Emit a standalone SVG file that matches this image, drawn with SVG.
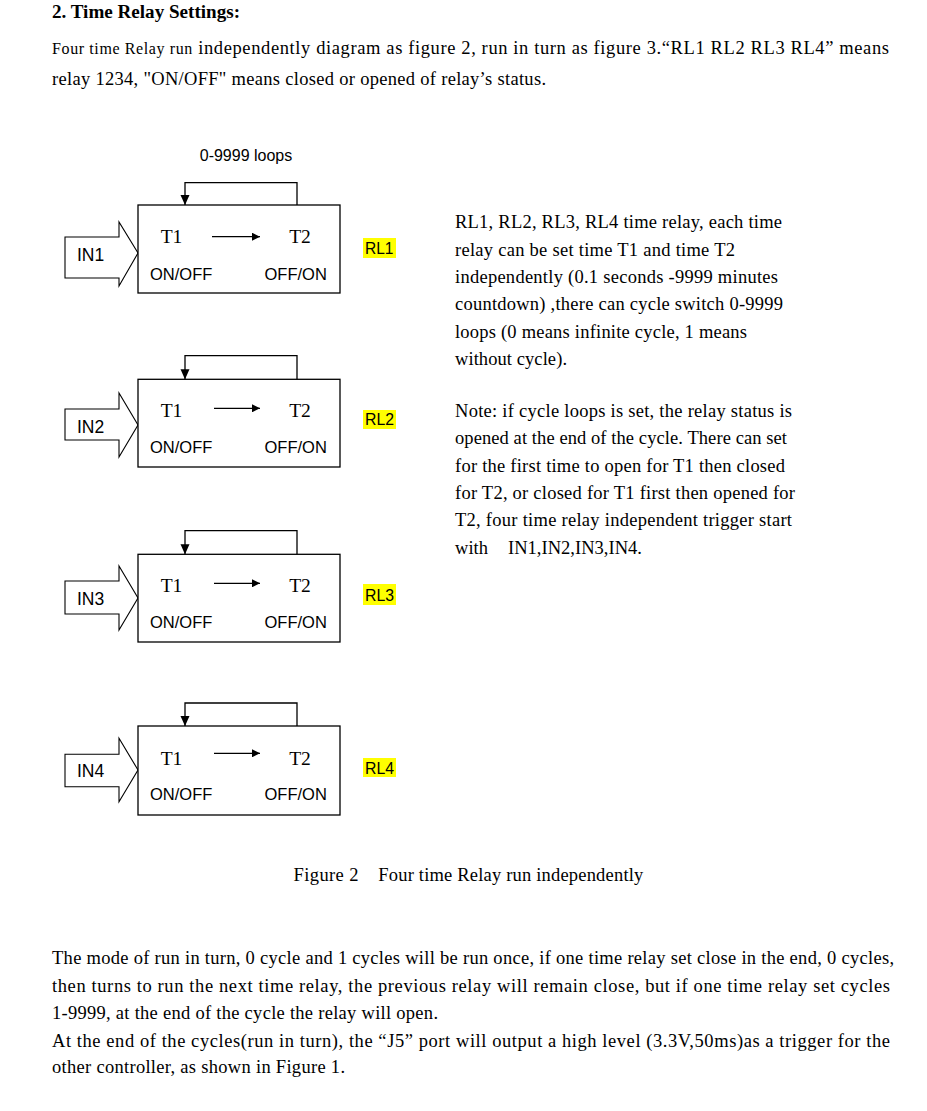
<svg xmlns="http://www.w3.org/2000/svg" width="927" height="1111" viewBox="0 0 927 1111">
<style>
.serif{font-family:"Liberation Serif","Times New Roman",serif;fill:#000}
.body{font-size:18.5px}
.sans{font-family:"Liberation Sans",Arial,sans-serif;fill:#000}
.box{fill:#fff;stroke:#000;stroke-width:1.3}
.bigarrow{fill:#fff;stroke:#000;stroke-width:1.1}
.line{fill:none;stroke:#000;stroke-width:1.3}
.hl{fill:#ffff00}
.t{font-size:19.5px}
.st{font-size:16.5px}
.in{font-size:17.5px}
.rl{font-size:16.5px}
</style>
<defs>
<marker id="ah" viewBox="0 0 10 10" refX="10" refY="5" markerWidth="8" markerHeight="8" markerUnits="userSpaceOnUse" orient="auto">
<path d="M0,0 L10,5 L0,10 Z" fill="#000"/>
</marker>
<marker id="ah2" viewBox="0 0 10 10" refX="10" refY="5" markerWidth="10" markerHeight="10" markerUnits="userSpaceOnUse" orient="auto">
<path d="M0,0.5 L10,5 L0,9.5 Z" fill="#000"/>
</marker>
</defs>
<rect width="927" height="1111" fill="#fff"/>

<g id="heading">
<text class="serif" x="52" y="18" font-size="18.5" font-weight="bold" textLength="188" lengthAdjust="spacingAndGlyphs">2. Time Relay Settings:</text>
</g>
<g id="intro">
<text class="serif body" x="52" y="54" textLength="837" lengthAdjust="spacing"><tspan font-size="16">Four time Relay run</tspan> independently diagram as figure 2, run in turn as figure 3.“RL1 RL2 RL3 RL4” means</text>
<text class="serif body" x="52" y="85" textLength="494" lengthAdjust="spacing">relay 1234, "ON/OFF" means closed or opened of relay’s status.</text>
</g>

<text class="sans" x="246" y="161" font-size="16" text-anchor="middle">0-9999 loops</text>

<g id="relay1">
<path class="bigarrow" d="M65,237 L119,237 L119,222 L138,253 L119,286 L119,278 L65,278 Z"/>
<text class="sans in" x="77" y="260.5">IN1</text>
<rect class="box" x="138" y="205" width="202" height="88"/>
<text class="serif t" x="171.5" y="243" text-anchor="middle">T1</text>
<text class="serif t" x="300" y="243" text-anchor="middle">T2</text>
<text class="sans st" x="150" y="279.5">ON/OFF</text>
<text class="sans st" x="264.5" y="279.5">OFF/ON</text>
<rect class="hl" x="363" y="238" width="33" height="20"/>
<text class="sans rl" x="365" y="253.5" textLength="28.5" lengthAdjust="spacingAndGlyphs">RL1</text>
</g>

<g id="relay2">
<path class="bigarrow" d="M65,409 L119,409 L119,393 L138,425 L119,457 L119,440 L65,440 Z"/>
<text class="sans in" x="77" y="432.7">IN2</text>
<rect class="box" x="138" y="379.3" width="202" height="87.7"/>
<text class="serif t" x="171.5" y="417" text-anchor="middle">T1</text>
<text class="serif t" x="300" y="417" text-anchor="middle">T2</text>
<text class="sans st" x="150" y="453.3">ON/OFF</text>
<text class="sans st" x="264.5" y="453.3">OFF/ON</text>
<rect class="hl" x="363" y="410" width="33" height="19"/>
<text class="sans rl" x="365" y="424.5" textLength="29" lengthAdjust="spacingAndGlyphs">RL2</text>
</g>

<g id="relay3">
<path class="bigarrow" d="M65,581 L119,581 L119,566 L138,598 L119,630 L119,614 L65,614 Z"/>
<text class="sans in" x="77" y="605">IN3</text>
<rect class="box" x="138" y="554.3" width="202" height="87.7"/>
<text class="serif t" x="171.5" y="592.3" text-anchor="middle">T1</text>
<text class="serif t" x="300" y="592.3" text-anchor="middle">T2</text>
<text class="sans st" x="150" y="628.3">ON/OFF</text>
<text class="sans st" x="264.5" y="628.3">OFF/ON</text>
<rect class="hl" x="363" y="584" width="33" height="21"/>
<text class="sans rl" x="365" y="600.5" textLength="29" lengthAdjust="spacingAndGlyphs">RL3</text>
</g>

<g id="relay4">
<path class="bigarrow" d="M65,754.3 L119,754.3 L119,738.3 L138,770 L119,801.7 L119,786.7 L65,786.7 Z"/>
<text class="sans in" x="77" y="777.3">IN4</text>
<rect class="box" x="138" y="726" width="202" height="89"/>
<text class="serif t" x="171.5" y="765" text-anchor="middle">T1</text>
<text class="serif t" x="300" y="765" text-anchor="middle">T2</text>
<text class="sans st" x="150" y="800">ON/OFF</text>
<text class="sans st" x="264.5" y="800">OFF/ON</text>
<rect class="hl" x="363" y="758" width="33" height="19"/>
<text class="sans rl" x="365" y="773.5" textLength="29" lengthAdjust="spacingAndGlyphs">RL4</text>
</g>

<g id="connectors">
<path class="line" d="M297,205 L297,182.7 L185,182.7 L185,205" marker-end="url(#ah2)"/>
<path class="line" d="M297,379.3 L297,355.7 L185,355.7 L185,379.3" marker-end="url(#ah2)"/>
<path class="line" d="M297,554.3 L297,530.7 L185,530.7 L185,554.3" marker-end="url(#ah2)"/>
<path class="line" d="M297,726 L297,703 L185,703 L185,726" marker-end="url(#ah2)"/>
<line class="line" x1="212" y1="236.7" x2="260" y2="236.7" marker-end="url(#ah)"/>
<line class="line" x1="214" y1="408.3" x2="260" y2="408.3" marker-end="url(#ah)"/>
<line class="line" x1="214" y1="583.3" x2="260" y2="583.3" marker-end="url(#ah)"/>
<line class="line" x1="214" y1="753.3" x2="260" y2="753.3" marker-end="url(#ah)"/>
</g>

<g id="description">
<text class="serif body" x="455" y="228.3" textLength="327" lengthAdjust="spacing">RL1, RL2, RL3, RL4 time relay, each time</text>
<text class="serif body" x="455" y="255.6" textLength="280" lengthAdjust="spacing">relay can be set time T1 and time T2</text>
<text class="serif body" x="455" y="283" textLength="323" lengthAdjust="spacing">independently (0.1 seconds -9999 minutes</text>
<text class="serif body" x="455" y="310.3" textLength="328" lengthAdjust="spacing">countdown) ,there can cycle switch 0-9999</text>
<text class="serif body" x="455" y="337.6" textLength="292" lengthAdjust="spacing">loops (0 means infinite cycle, 1 means</text>
<text class="serif body" x="455" y="365" textLength="112" lengthAdjust="spacing">without cycle).</text>
</g>

<g id="note">
<text class="serif body" x="455" y="416.7" textLength="337" lengthAdjust="spacing">Note: if cycle loops is set, the relay status is</text>
<text class="serif body" x="455" y="444" textLength="332" lengthAdjust="spacing">opened at the end of the cycle. There can set</text>
<text class="serif body" x="455" y="471.5" textLength="330" lengthAdjust="spacing">for the first time to open for T1 then closed</text>
<text class="serif body" x="455" y="498.8" textLength="340" lengthAdjust="spacing">for T2, or closed for T1 first then opened for</text>
<text class="serif body" x="455" y="526.2" textLength="337" lengthAdjust="spacing">T2, four time relay independent trigger start</text>
<text class="serif body" x="455" y="553.5" textLength="33" lengthAdjust="spacing">with</text>
<text class="serif body" x="508" y="553.5" textLength="134" lengthAdjust="spacingAndGlyphs">IN1,IN2,IN3,IN4.</text>
</g>

<g id="caption">
<text class="serif body" x="293.5" y="881" textLength="65" lengthAdjust="spacing">Figure 2</text>
<text class="serif body" x="378.3" y="881" textLength="265" lengthAdjust="spacing">Four time Relay run independently</text>
</g>

<g id="footer">
<text class="serif body" x="52" y="964" textLength="842" lengthAdjust="spacing">The mode of run in turn, 0 cycle and 1 cycles will be run once, if one time relay set close in the end, 0 cycles,</text>
<text class="serif body" x="52" y="991.7" textLength="838" lengthAdjust="spacing">then turns to run the next time relay, the previous relay will remain close, but if one time relay set cycles</text>
<text class="serif body" x="52" y="1019.3" textLength="386" lengthAdjust="spacing">1-9999, at the end of the cycle the relay will open.</text>
<text class="serif body" x="52" y="1046.7" textLength="838" lengthAdjust="spacing">At the end of the cycles(run in turn), the “J5” port will output a high level (3.3V,50ms)as a trigger for the</text>
<text class="serif body" x="52" y="1073.3" textLength="293" lengthAdjust="spacing">other controller, as shown in Figure 1.</text>
</g>
</svg>
